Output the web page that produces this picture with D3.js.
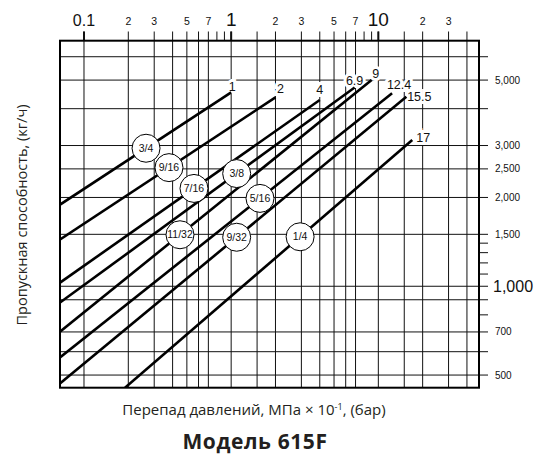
<!DOCTYPE html>
<html>
<head>
<meta charset="utf-8">
<script src="https://cdn.jsdelivr.net/npm/d3@7"></script>
<style>
  body { margin: 0; background: #fff; }
  svg { display: block; }
</style>
</head>
<body>
<div id="chart"></div>
<script>
// orifice sizes, one line each
var sizes = ["3/4", "9/16", "7/16", "3/8", "11/32", "5/16", "9/32", "1/4"];
// end of each line: max pressure drop (bar) and flow (kg/h)
var maxDp = [1, 2, 4, 6.9, 9, 12.4, 15.5, 17];
var maxFlow = [4540, 4370, 4280, 4720, 5000, 4510, 4390, 3130];
// start of each line
var startDp = [0.068, 0.068, 0.068, 0.068, 0.068, 0.068, 0.068, 0.19];
var startFlow = [1885, 1435, 1025, 877, 699, 571, 466, 453];
// where the size bubble sits on each line
var circleDp = [0.264, 0.378, 0.559, 1.09, 0.449, 1.57, 1.09, 2.94];

// axis grids and tick labels
var xGrid = [0.1, 0.2, 0.3, 0.4, 0.5, 0.6, 0.7, 1, 1.5, 2, 3, 4, 5, 6, 7, 10, 15, 20, 30, 40];
var xShort = [0.8, 0.9, 8, 9];
var xTickValues = [0.1, 0.2, 0.3, 0.5, 0.7, 1, 2, 3, 5, 7, 10, 20, 30];
var xTickLabels = ["0.1", "2", "3", "5", "7", "1", "2", "3", "5", "7", "10", "2", "3"];
var yGrid = [500, 600, 700, 900, 1000, 1500, 2000, 2500, 3000, 4000, 5000, 6000];
var yShort = [800, 1100, 1200, 1300, 1400];
var yTickValues = [500, 700, 1000, 1500, 2000, 2500, 3000, 5000];
var yTickLabels = ["500", "700", "1,000", "1,500", "2,000", "2,500", "3,000", "5,000"];

// label nudges (px) for the end numbers
var labelDx = [1, 5, 0, 0, 4, 7, 13, 11];
var labelDy = [-6, -9, -10, -7, -6, -9, 0, -2];

function drawChart() {
  var W = 535, H = 456;
  var pLeft = 60, pRight = 479, pTop = 40.7, pBottom = 387.7;

  var x = d3.scaleLog().domain([0.0687, 48.3]).range([pLeft, pRight]);
  var y = d3.scaleLog().domain([453, 6800]).range([pBottom, pTop]);

  var svg = d3.select("#chart").append("svg")
      .attr("width", W)
      .attr("height", H)
      .style("background", "#fff");

  var ink = "#111";

  // vertical grid + top ticks
  svg.append("g").selectAll("line")
    .data(xGrid)
    .enter().append("line")
      .attr("x1", d => x(d)).attr("x2", d => x(d))
      .attr("y1", 31.5).attr("y2", pBottom)
      .attr("stroke", ink)
      .attr("stroke-width", 1);

  svg.append("g").selectAll("line")
    .data([0.1, 1, 10])
    .enter().append("line")
      .attr("x1", d => x(d)).attr("x2", d => x(d))
      .attr("y1", 31.5).attr("y2", pTop)
      .attr("stroke", ink)
      .attr("stroke-width", 2);

  svg.append("g").selectAll("line")
    .data(xShort)
    .enter().append("line")
      .attr("x1", d => x(d)).attr("x2", d => x(d))
      .attr("y1", 31.5).attr("y2", pTop)
      .attr("stroke", ink)
      .attr("stroke-width", 1);

  // horizontal grid + right ticks
  svg.append("g").selectAll("line")
    .data(yGrid)
    .enter().append("line")
      .attr("x1", pLeft).attr("x2", 488)
      .attr("y1", d => y(d)).attr("y2", d => y(d))
      .attr("stroke", ink)
      .attr("stroke-width", 1);

  svg.append("g").selectAll("line")
    .data(yShort)
    .enter().append("line")
      .attr("x1", pRight).attr("x2", 488)
      .attr("y1", d => y(d)).attr("y2", d => y(d))
      .attr("stroke", ink)
      .attr("stroke-width", 1);

  // frame
  svg.append("rect")
      .attr("x", pLeft).attr("y", pTop)
      .attr("width", pRight - pLeft).attr("height", pBottom - pTop)
      .attr("fill", "none")
      .attr("stroke", "#000")
      .attr("stroke-width", 2);

  // top tick labels
  svg.append("g").selectAll("text")
    .data(xTickValues)
    .enter().append("text")
      .attr("x", d => x(d))
      .attr("y", d => (d == 0.1 || d == 1 || d == 10) ? 26 : 25)
      .attr("text-anchor", "middle")
      .style("font-family", "Liberation Sans, Arial, sans-serif")
      .style("font-size", d => d == 0.1 ? "16px" : (d == 1 || d == 10) ? "19px" : "10.5px")
      .attr("fill", ink)
      .text((d, i) => xTickLabels[i]);

  // right tick labels
  svg.append("g").selectAll("text")
    .data(yTickValues)
    .enter().append("text")
      .attr("x", d => d == 1000 ? 493 : 495)
      .attr("y", d => y(d))
      .attr("dy", "0.35em")
      .style("font-family", "Liberation Sans, Arial, sans-serif")
      .style("font-size", d => d == 1000 ? "16px" : "10px")
      .attr("fill", ink)
      .text((d, i) => yTickLabels[i]);

  // end-of-line numbers with white halo
  svg.append("g").selectAll("text")
    .data(maxDp)
    .enter().append("text")
      .attr("x", (d, i) => x(d) + labelDx[i])
      .attr("y", (d, i) => y(maxFlow[i]) + labelDy[i])
      .attr("dy", "0.35em")
      .attr("text-anchor", "middle")
      .style("font-family", "Liberation Sans, Arial, sans-serif")
      .style("font-size", "12.5px")
      .attr("fill", ink)
      .attr("stroke", "#fff")
      .attr("stroke-width", 6)
      .attr("paint-order", "stroke")
      .text(d => String(d));

  // the lines
  svg.append("clipPath").attr("id", "plot")
    .append("rect")
      .attr("x", pLeft).attr("y", pTop)
      .attr("width", pRight - pLeft).attr("height", pBottom - pTop);

  var line = d3.line()
      .x(d => x(d[0]))
      .y(d => y(d[1]));

  svg.append("g").attr("clip-path", "url(#plot)")
    .selectAll("path")
    .data(sizes)
    .enter().append("path")
      .attr("d", (d, i) => line([[startDp[i], startFlow[i]], [maxDp[i], maxFlow[i]]]))
      .attr("fill", "none")
      .attr("stroke", "#000")
      .attr("stroke-width", 2.6);

  // size bubbles, placed on their line in log space
  function flowAt(i, p) {
    var t = Math.log(p / startDp[i]) / Math.log(maxDp[i] / startDp[i]);
    return Math.exp(Math.log(startFlow[i]) + t * Math.log(maxFlow[i] / startFlow[i]));
  }

  var bubbles = svg.append("g").selectAll("g")
    .data(sizes)
    .enter().append("g")
      .attr("transform", (d, i) => "translate(" + x(circleDp[i]) + "," + y(flowAt(i, circleDp[i])) + ")");

  bubbles.append("circle")
      .attr("r", 14)
      .attr("fill", "#fff")
      .attr("stroke", "#000")
      .attr("stroke-width", 1);

  bubbles.append("text")
      .attr("text-anchor", "middle")
      .attr("dy", "0.35em")
      .style("font-family", "Liberation Sans, Arial, sans-serif")
      .style("font-size", "10.5px")
      .attr("fill", ink)
      .text(d => d);

  // axis titles
  svg.append("text")
      .attr("transform", "translate(27,215)rotate(-90)")
      .attr("text-anchor", "middle")
      .style("font-family", "Open Sans, sans-serif")
      .style("font-size", "14.5px")
      .attr("fill", "#231f20")
      .text("Пропускная способность, (кг/ч)");

  var xt = svg.append("text")
      .attr("x", 254)
      .attr("y", 415)
      .attr("text-anchor", "middle")
      .style("font-family", "Open Sans, sans-serif")
      .style("font-size", "15px")
      .attr("fill", "#231f20");
  xt.append("tspan").text("Перепад давлений, МПа × 10");
  xt.append("tspan").attr("dy", -5).style("font-size", "9px").text("-1");
  xt.append("tspan").attr("dy", 5).text(", (бар)");

  svg.append("text")
      .attr("x", 255)
      .attr("y", 449)
      .attr("text-anchor", "middle")
      .style("font-family", "Open Sans, sans-serif")
      .style("font-size", "21px")
      .style("font-weight", "bold")
      .style("letter-spacing", "0.6px")
      .attr("fill", "#231f20")
      .text("Модель 615F");
}

drawChart();
</script>
</body>
</html>
